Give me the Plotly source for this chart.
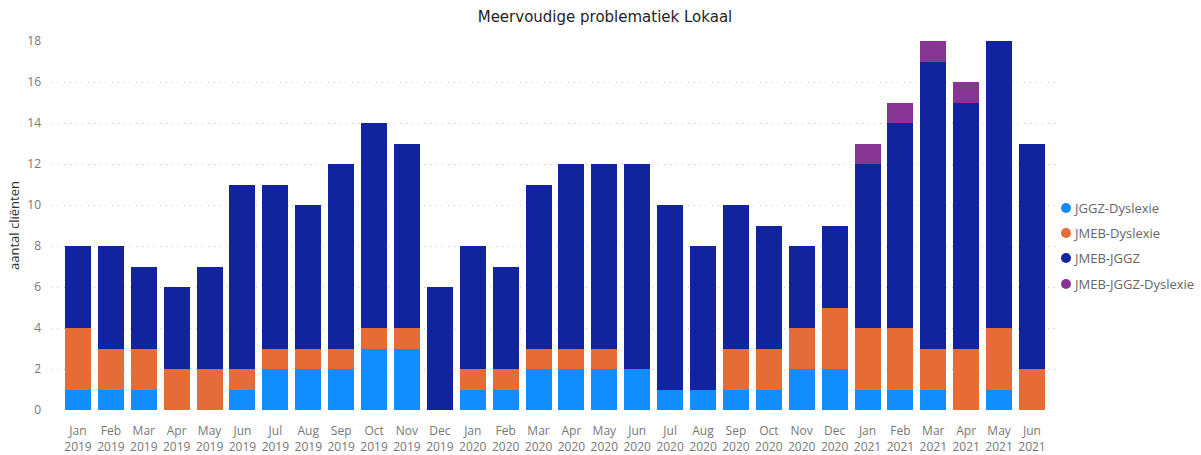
import plotly.graph_objects as go

months = ["Jan", "Feb", "Mar", "Apr", "May", "Jun", "Jul", "Aug", "Sep", "Oct", "Nov", "Dec"]
years = ["2019"] * 12 + ["2020"] * 12 + ["2021"] * 6
month_labels = (months * 3)[:30]
categories = [f"{m}<br>{y}" for m, y in zip(month_labels, years)]

jggz_dyslexie = [1, 1, 1, 0, 0, 1, 2, 2, 2, 3, 3, 0,
                 1, 1, 2, 2, 2, 2, 1, 1, 1, 1, 2, 2,
                 1, 1, 1, 0, 1, 0]
jmeb_dyslexie = [3, 2, 2, 2, 2, 1, 1, 1, 1, 1, 1, 0,
                 1, 1, 1, 1, 1, 0, 0, 0, 2, 2, 2, 3,
                 3, 3, 2, 3, 3, 2]
jmeb_jggz = [4, 5, 4, 4, 5, 9, 8, 7, 9, 10, 9, 6,
             6, 5, 8, 9, 9, 10, 9, 7, 7, 6, 4, 4,
             8, 10, 14, 12, 14, 11]
jmeb_jggz_dyslexie = [0] * 24 + [1, 1, 1, 1, 0, 0]

series_names = ["JGGZ-Dyslexie", "JMEB-Dyslexie", "JMEB-JGGZ", "JMEB-JGGZ-Dyslexie"]
series_values = [jggz_dyslexie, jmeb_dyslexie, jmeb_jggz, jmeb_jggz_dyslexie]
series_colors = ["#118DFF", "#E66C37", "#12239E", "#873592"]

fig = go.Figure()
for name, vals, col in zip(series_names, series_values, series_colors):
    fig.add_trace(go.Bar(x=list(range(len(categories))), y=vals, name=name,
                         marker=dict(color=col, line=dict(width=0)),
                         showlegend=False))

# Custom legend (circle + text), Power BI style
W, H = 1201, 455
ml, mr, mt, mb = 52, 145, 41, 45
pw, ph = W - ml - mr, H - mt - mb
leg_x_px = 1066
leg_y_px = [208, 233, 258, 284]
for name, col, ypx in zip(series_names, series_colors, leg_y_px):
    xp = (leg_x_px - ml) / pw
    yp = 1 - (ypx - mt) / ph
    fig.add_shape(type="circle", xref="paper", yref="paper",
                  xsizemode="pixel", ysizemode="pixel",
                  xanchor=xp, yanchor=yp, x0=-5, x1=5, y0=-5, y1=5,
                  fillcolor=col, line=dict(width=0))
    fig.add_annotation(x=(leg_x_px + 5 - ml) / pw, y=yp, xref="paper", yref="paper",
                       text=name, showarrow=False, xanchor="left", yanchor="middle",
                       font=dict(family="Open Sans", size=13, color="#666666"))

fig.update_layout(
    width=W, height=H,
    barmode="stack", bargap=0.21,
    plot_bgcolor="white", paper_bgcolor="white",
    margin=dict(l=ml, r=mr, t=mt, b=mb, autoexpand=False),
    font=dict(family="Open Sans", size=12, color="#777777"),
    showlegend=False,
    title=dict(text="Meervoudige problematiek Lokaal", x=605 / W, xanchor="center",
               y=1 - 17 / H, yanchor="middle",
               font=dict(family="DejaVu Sans", size=15, color="#252423")),
)
fig.update_xaxes(tickmode="array", tickvals=list(range(len(categories))),
                 ticktext=categories, range=[-0.79, 29.73], automargin=False,
                 showgrid=False, zeroline=False, showline=False, ticks="",
                 ticklabelstandoff=12,
                 tickfont=dict(size=12, color="#777777"))
fig.update_yaxes(range=[0, 18], dtick=2, showgrid=True, gridcolor="#C8C8C8",
                 griddash="1px,5px", gridwidth=1, zeroline=False, showline=False,
                 ticks="", ticklabelstandoff=10, automargin=False,
                 tickfont=dict(size=12, color="#777777"),
                 title=dict(text="aantal cliënten", standoff=4,
                            font=dict(size=13, color="#333333")))

fig.write_html("out.html", config={"displayModeBar": False},
               post_script="document.body.style.margin='0px';")
